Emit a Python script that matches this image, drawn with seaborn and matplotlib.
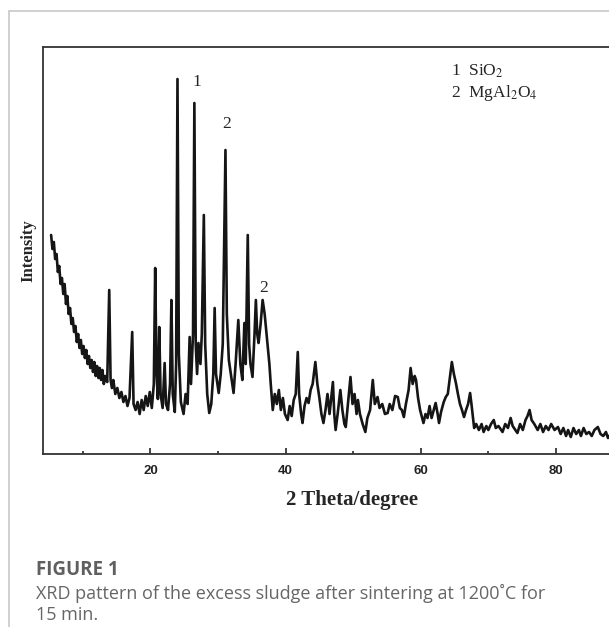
import seaborn as sns
import matplotlib.pyplot as plt
import pandas as pd
from matplotlib.lines import Line2D

# XRD trace (2 theta, intensity in arbitrary units)
two_theta = [5.3, 5.5, 5.7, 5.9, 6.1, 6.3, 6.5, 6.7, 6.9, 7.1, 7.3, 7.5, 7.7, 7.9, 8.1, 8.3, 8.5, 8.7, 8.9, 9.1,
             9.3, 9.5, 9.7, 9.9, 10.1, 10.3, 10.5, 10.7, 10.9, 11.1, 11.3, 11.5, 11.7, 11.9, 12.1, 12.3, 12.5, 12.7, 12.9, 13.1,
             13.3, 13.6, 13.9, 14.1, 14.3, 14.5, 14.8, 15.1, 15.4, 15.7, 16.0, 16.3, 16.6, 16.9, 17.3, 17.5, 17.8, 18.1, 18.4, 18.7,
             19.0, 19.3, 19.6, 19.9, 20.2, 20.5, 20.7, 20.9, 21.1, 21.3, 21.5, 21.8, 22.1, 22.3, 22.6, 22.9, 23.1, 23.3, 23.6, 23.8,
             24.0, 24.2, 24.5, 24.9, 25.2, 25.5, 25.8, 26.0, 26.3, 26.5, 26.7, 26.9, 27.1, 27.4, 27.6, 27.9, 28.1, 28.4, 28.7, 29.0,
             29.3, 29.5, 29.7, 30.1, 30.4, 30.7, 31.1, 31.3, 31.6, 31.9, 32.3, 32.6, 33.0, 33.3, 33.6, 33.9, 34.1, 34.4, 34.6, 34.8,
             35.1, 35.4, 35.6, 35.8, 36.0, 36.3, 36.6, 36.9, 37.3, 37.6, 37.8, 38.1, 38.4, 38.7, 39.0, 39.3, 39.6, 39.9, 40.3, 40.6,
             40.9, 41.2, 41.5, 41.8, 42.0, 42.3, 42.5, 42.8, 43.1, 43.4, 43.7, 44.0, 44.4, 44.7, 45.0, 45.3, 45.6, 45.9, 46.2, 46.5,
             47.0, 47.2, 47.4, 47.7, 48.1, 48.4, 48.7, 48.9, 49.2, 49.6, 49.9, 50.2, 50.5, 50.7, 51.0, 51.4, 51.8, 52.1, 52.5, 52.9,
             53.2, 53.6, 53.9, 54.3, 54.7, 55.1, 55.4, 55.8, 56.2, 56.6, 56.9, 57.2, 57.5, 57.8, 58.2, 58.5, 58.8, 59.1, 59.3, 59.6,
             59.9, 60.2, 60.4, 60.7, 61.0, 61.3, 61.6, 62.0, 62.2, 62.5, 62.7, 63.0, 63.4, 63.7, 64.0, 64.3, 64.6, 64.9, 65.2, 65.5,
             65.8, 66.1, 66.4, 66.7, 67.0, 67.3, 67.5, 67.9, 68.2, 68.6, 69.0, 69.3, 69.7, 70.0, 70.4, 70.8, 71.1, 71.5, 72.1, 72.5,
             72.9, 73.3, 73.6, 74.0, 74.3, 74.7, 75.1, 75.5, 75.8, 76.1, 76.4, 76.8, 77.3, 77.7, 78.1, 78.5, 78.9, 79.3, 79.8, 80.3,
             80.7, 81.1, 81.5, 81.8, 82.2, 82.6, 83.0, 83.4, 83.7, 84.1, 84.5, 84.9, 85.3, 85.7, 86.2, 86.6, 87.0, 87.4, 87.7, 88.1,
             88.5, 89.0]
intensity = [219, 205, 212, 195, 200, 182, 188, 170, 176, 160, 170, 150, 158, 140, 146, 130, 136, 122, 128, 112,
             120, 106, 114, 100, 108, 96, 104, 90, 98, 86, 94, 82, 92, 78, 88, 76, 86, 74, 84, 70,
             78, 72, 164, 74, 66, 74, 60, 66, 56, 62, 52, 58, 48, 56, 122, 50, 44, 52, 40, 54,
             44, 58, 48, 62, 46, 70, 186, 80, 55, 127, 60, 46, 91, 50, 44, 70, 154, 60, 42, 90,
             375, 100, 52, 40, 60, 50, 117, 70, 120, 351, 110, 80, 111, 90, 120, 239, 110, 60, 41, 50,
             80, 146, 80, 61, 80, 110, 304, 140, 94, 80, 61, 90, 134, 90, 74, 131, 90, 219, 110, 90,
             77, 120, 154, 120, 111, 130, 154, 140, 111, 90, 70, 44, 60, 50, 64, 44, 56, 40, 34, 48,
             38, 54, 60, 102, 60, 40, 31, 48, 56, 51, 64, 70, 92, 70, 56, 40, 31, 44, 60, 40,
             72, 40, 24, 40, 64, 44, 30, 27, 48, 77, 50, 60, 40, 54, 40, 30, 22, 36, 44, 74,
             50, 57, 46, 50, 40, 41, 50, 44, 58, 57, 46, 44, 37, 50, 64, 86, 70, 78, 74, 56,
             44, 36, 31, 40, 36, 48, 36, 46, 51, 40, 31, 42, 52, 57, 60, 76, 92, 80, 71, 60,
             50, 44, 37, 44, 50, 61, 50, 26, 30, 24, 30, 22, 28, 24, 30, 34, 26, 28, 22, 30,
             26, 36, 28, 24, 21, 30, 24, 34, 38, 44, 34, 30, 24, 30, 22, 28, 24, 30, 24, 27,
             20, 26, 18, 24, 17, 26, 20, 24, 18, 26, 20, 22, 18, 24, 27, 20, 18, 22, 16, 20,
             16, 18]

major_ticks = [20, 40, 60, 80]
minor_ticks = [10, 30, 50, 70, 90]

# peak labels: (2 theta, intensity, label)
peak_x = [26.9, 31.2, 36.8]
peak_y = [372, 330, 166]
peak_lab = ['1', '2', '2']

legend_lines = ['1  SiO$_2$', '2  MgAl$_2$O$_4$']

df = pd.DataFrame({'two_theta': two_theta, 'intensity': intensity})

sns.set_style('ticks')
plt.rcParams['mathtext.fontset'] = 'stix'

fig = plt.figure(figsize=(6.09, 6.27), dpi=100)
ax = fig.add_axes([43 / 609, 173 / 627, 580.5 / 609, 407 / 627])

sns.lineplot(data=df, x='two_theta', y='intensity', ax=ax, color='#151515',
             linewidth=1.9, estimator=None, sort=False)

ax.set_xlim(4.1, 90)
ax.set_ylim(0, 407)
ax.set_yticks([])
ax.set_xticks(major_ticks)
ax.set_xticks(minor_ticks, minor=True)
ax.set_xticklabels([str(t) for t in major_ticks], fontfamily='Liberation Sans',
                   fontweight='bold', fontsize=9.5, color='#222222')
ax.tick_params(axis='x', which='major', direction='in', length=4, width=1.2, pad=8)
ax.tick_params(axis='x', which='minor', direction='in', length=2.5, width=1.2)
for s in ax.spines.values():
    s.set_linewidth(1.3)
    s.set_color('#333333')

ax.set_xlabel('2 Theta/degree', fontfamily='Liberation Serif', fontweight='bold',
              fontsize=15, labelpad=6)
ax.xaxis.set_label_coords((352 - 43) / 580.5, -0.088)
ax.set_ylabel('Intensity', fontfamily='Liberation Serif', fontweight='bold',
              fontsize=12, labelpad=5)

for x, y, t in zip(peak_x, peak_y, peak_lab):
    ax.text(x, y, t, ha='center', va='center', fontfamily='Liberation Serif', fontsize=12.5)

for i, t in enumerate(legend_lines):
    ax.text(64.5, 383 - i * 22, t, ha='left', va='center',
            fontfamily='Liberation Serif', fontsize=12.5)

# card border of the page
fig.add_artist(Line2D([9 / 609, 9 / 609], [0, 1 - 11 / 627], color='#c8c8c8', lw=1.2))
fig.add_artist(Line2D([9 / 609, 1], [1 - 11 / 627, 1 - 11 / 627], color='#c8c8c8', lw=1.2))

fig.text(36 / 609, 1 - 570 / 627, 'FIGURE 1', fontfamily='Open Sans', fontweight='bold',
         fontsize=13.5, color='#5f5f5f', va='center')
fig.text(36 / 609, 1 - 604 / 627,
         'XRD pattern of the excess sludge after sintering at 1200˚C for\n15 min.',
         fontfamily='Open Sans', fontsize=13, color='#666666', va='center', linespacing=1.15)

fig.savefig('out.png', dpi=100)
